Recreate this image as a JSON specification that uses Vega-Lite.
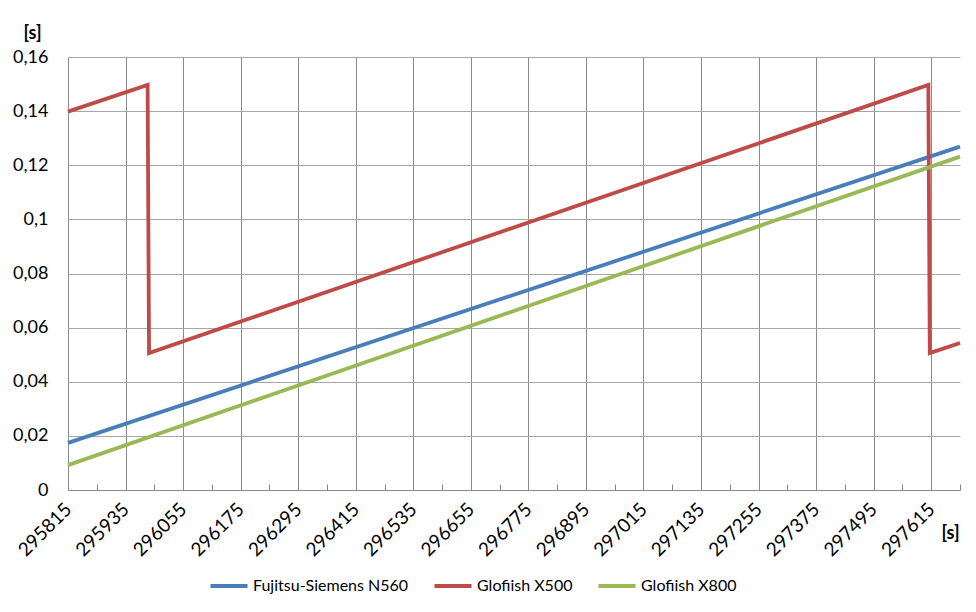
{
  "$schema": "https://vega.github.io/schema/vega-lite/v6.json",
  "width": 892,
  "height": 433,
  "autosize": {"type": "none"},
  "padding": {"left": 68, "top": 57, "right": 16, "bottom": 122},
  "background": "white",
  "config": {
    "locale": {"number": {"decimal": ",", "thousands": ".", "grouping": [3], "currency": ["", ""]}},
    "view": {"stroke": null},
    "font": "Lato"
  },
  "data": {
    "values": [
      {"series": "Fujitsu-Siemens N560", "t": 295815, "v": 0.0174},
      {"series": "Fujitsu-Siemens N560", "t": 297675, "v": 0.1269},
      {"series": "Glofiish X500", "t": 295815, "v": 0.1398},
      {"series": "Glofiish X500", "t": 295981, "v": 0.1497},
      {"series": "Glofiish X500", "t": 295984, "v": 0.0506},
      {"series": "Glofiish X500", "t": 297609, "v": 0.1497},
      {"series": "Glofiish X500", "t": 297612, "v": 0.0506},
      {"series": "Glofiish X500", "t": 297675, "v": 0.0543},
      {"series": "Glofiish X800", "t": 295815, "v": 0.0092},
      {"series": "Glofiish X800", "t": 297675, "v": 0.1232}
    ]
  },
  "mark": {"type": "line", "strokeWidth": 3.8, "strokeCap": "butt", "strokeJoin": "miter"},
  "encoding": {
    "x": {
      "field": "t",
      "type": "quantitative",
      "scale": {"domain": [295815, 297675], "zero": false, "nice": false},
      "axis": {
        "title": "[s]",
        "titleFont": "Lato",
        "titleFontSize": 18,
        "titleFontWeight": "bold",
        "titleColor": "#000",
        "titleAngle": 0,
        "titleAlign": "center",
        "titleBaseline": "middle",
        "titleX": 882,
        "titleY": 43,
        "values": [295815, 295875, 295935, 295995, 296055, 296115, 296175, 296235, 296295, 296355, 296415, 296475, 296535, 296595, 296655, 296715, 296775, 296835, 296895, 296955, 297015, 297075, 297135, 297195, 297255, 297315, 297375, 297435, 297495, 297555, 297615, 297675],
        "format": "d",
        "labelExpr": "(datum.value - 295815) % 120 == 0 ? datum.label : ''",
        "labelAngle": -45,
        "labelAlign": "right",
        "labelBaseline": "middle",
        "labelPadding": 22,
        "labelOverlap": false,
        "labelFont": "Lato",
        "labelFontSize": 19,
        "labelColor": "#000",
        "labelBound": false,
        "labelFlush": false,
        "domainColor": "#888888",
        "domainWidth": 1,
        "grid": true,
        "gridColor": "#8c8c8c",
        "gridWidth": 1,
        "gridOpacity": {"condition": {"test": "(datum.value - 295815) % 120 == 0", "value": 1}, "value": 0},
        "ticks": true,
        "tickColor": "#888888",
        "tickSize": -6,
        "tickOpacity": {"condition": {"test": "(datum.value - 295815) % 120 == 0", "value": 0}, "value": 1}
      }
    },
    "y": {
      "field": "v",
      "type": "quantitative",
      "scale": {"domain": [0, 0.16], "nice": false},
      "axis": {
        "title": "[s]",
        "titleFont": "Lato",
        "titleFontSize": 18,
        "titleFontWeight": "bold",
        "titleColor": "#000",
        "titleAngle": 0,
        "titleAlign": "center",
        "titleBaseline": "middle",
        "titleX": -36,
        "titleY": -24,
        "values": [0, 0.02, 0.04, 0.06, 0.08, 0.1, 0.12, 0.14, 0.16],
        "format": ".2~f",
        "labelFont": "Lato",
        "labelFontSize": 18,
        "labelColor": "#000",
        "labelPadding": 20,
        "domain": false,
        "ticks": false,
        "grid": true,
        "gridColor": "#a6a6a6",
        "gridWidth": 1
      }
    },
    "color": {
      "field": "series",
      "type": "nominal",
      "scale": {
        "domain": ["Fujitsu-Siemens N560", "Glofiish X500", "Glofiish X800"],
        "range": ["#4A7EBB", "#BE4B48", "#98B954"]
      },
      "legend": {
        "title": null,
        "orient": "none",
        "direction": "horizontal",
        "legendX": 140,
        "legendY": 508,
        "symbolType": "stroke",
        "symbolSize": 1370,
        "symbolStrokeWidth": 4,
        "labelFont": "Lato",
        "labelFontSize": 16,
        "labelLimit": 0,
        "labelColor": "#000",
        "labelOffset": 3,
        "columnPadding": 17
      }
    }
  }
}
